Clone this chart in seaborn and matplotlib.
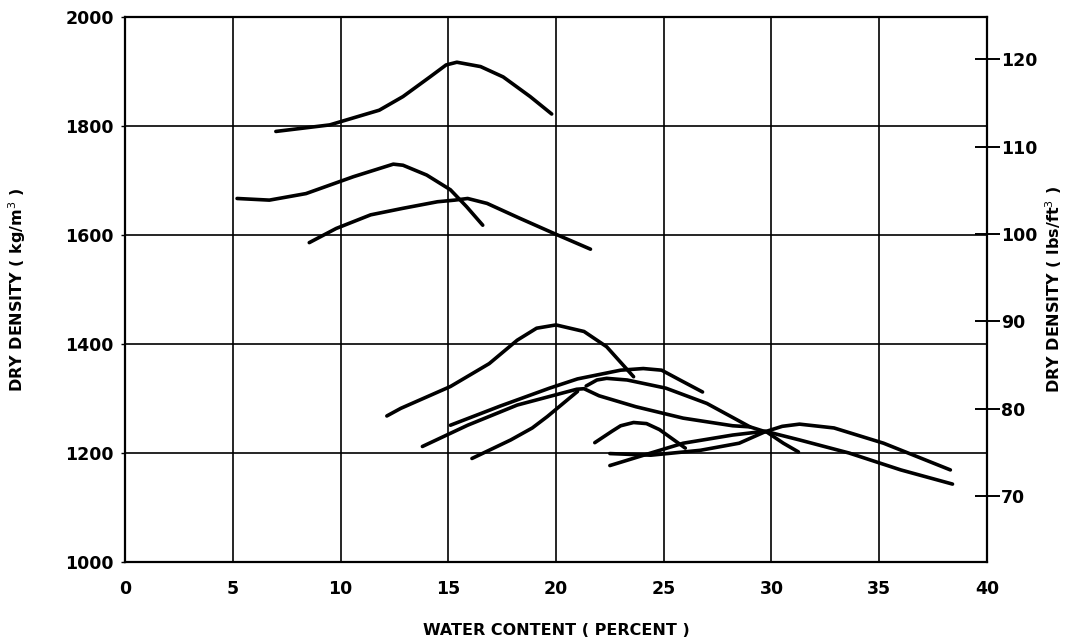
import matplotlib
matplotlib.use("Agg")
import matplotlib.pyplot as plt
import seaborn as sns
import pandas as pd

# ---- data (water content %, dry density kg/m3) ----
water_a = [7.0, 9.5, 11.8, 12.9, 14.15, 14.9, 15.4, 16.5, 17.55, 18.8, 19.8]
density_a = [1790, 1802, 1829, 1854, 1890, 1912, 1917, 1909, 1890, 1854, 1822]

water_b = [5.2, 6.7, 8.4, 10.6, 12.45, 12.9, 14.0, 15.1, 15.85, 16.6]
density_b = [1667, 1664, 1676, 1707, 1730, 1728, 1710, 1683, 1652, 1618]

water_c = [8.55, 9.8, 11.4, 12.9, 14.5, 15.3, 15.9, 16.8, 18.3, 19.9, 21.6]
density_c = [1586, 1612, 1637, 1649, 1661, 1664, 1667, 1658, 1631, 1603, 1574]

water_d = [12.15, 12.8, 15.1, 16.9, 18.2, 19.1, 20.0, 21.3, 22.35, 23.6]
density_d = [1268, 1282, 1322, 1364, 1407, 1429, 1435, 1423, 1395, 1340]

water_e = [15.1, 17.4, 19.7, 21.0, 23.0, 24.05, 24.9, 25.75, 26.8]
density_e = [1251, 1286, 1319, 1336, 1352, 1355, 1352, 1334, 1312]

water_f = [13.8, 15.9, 18.2, 20.96, 21.3, 22.0, 23.7, 25.9, 28.2, 29.0]
density_f = [1212, 1251, 1288, 1317, 1318, 1305, 1285, 1264, 1250, 1248]

water_g = [21.4, 21.9, 22.35, 23.3, 25.1, 27.0, 29.0, 29.8, 30.55, 31.25]
density_g = [1323, 1334, 1337, 1334, 1319, 1291, 1248, 1238, 1218, 1202]

water_h = [16.1, 17.0, 17.9, 18.9, 19.6, 20.3, 21.0]
density_h = [1190, 1207, 1224, 1246, 1267, 1290, 1313]

water_i = [21.8, 22.6, 23.0, 23.6, 24.2, 24.8, 25.4, 26.0]
density_i = [1219, 1240, 1250, 1256, 1254, 1243, 1226, 1209]

water_j = [22.5, 24.4, 26.7, 28.5, 29.7, 30.5, 31.3, 32.9, 35.2, 38.3]
density_j = [1199, 1196, 1205, 1218, 1239, 1249, 1253, 1246, 1218, 1169]

water_k = [22.5, 24.4, 25.9, 28.2, 29.7, 31.3, 33.6, 36.0, 38.4]
density_k = [1177, 1200, 1218, 1233, 1240, 1224, 1200, 1169, 1143]

x_ticks = [0, 5, 10, 15, 20, 25, 30, 35, 40]
y_ticks = [1000, 1200, 1400, 1600, 1800, 2000]
lbs_ticks = [70, 80, 90, 100, 110, 120]
KG_PER_LB = 16.0185

curves = {
    "A": (water_a, density_a), "B": (water_b, density_b), "C": (water_c, density_c),
    "D": (water_d, density_d), "E": (water_e, density_e), "F": (water_f, density_f),
    "G": (water_g, density_g), "H": (water_h, density_h), "I": (water_i, density_i),
    "J": (water_j, density_j), "K": (water_k, density_k),
}

frames = []
for name, (wx, dy) in curves.items():
    frames.append(pd.DataFrame({"water": wx, "density": dy, "curve": name}))
df = pd.concat(frames, ignore_index=True)

sns.set_style("white")
plt.rcParams['font.family'] = ['DejaVu Sans']
plt.rcParams['text.color'] = 'black'
plt.rcParams['axes.labelcolor'] = 'black'
plt.rcParams['xtick.color'] = 'black'
plt.rcParams['ytick.color'] = 'black'

fig = plt.figure(figsize=(10.87, 6.41), dpi=100)
ax = fig.add_axes([0.115, 0.1232, 0.793, 0.8503])

sns.lineplot(data=df, x="water", y="density", units="curve", estimator=None,
             sort=False, color="black", lw=2.6, ax=ax, legend=False,
             solid_joinstyle="round", solid_capstyle="round")

ax.set_xlim(0, 40)
ax.set_ylim(1000, 2000)
ax.set_xticks(x_ticks)
ax.set_yticks(y_ticks)
ax.set_axisbelow(True)
ax.grid(True, color="black", lw=1.2)
for s in ax.spines.values():
    s.set_color("black")
    s.set_linewidth(1.6)

tick_font = dict(fontsize=12.5, fontweight="bold")
ax.set_xticklabels([str(v) for v in x_ticks], **tick_font)
ax.set_yticklabels([str(v) for v in y_ticks], **tick_font)
ax.tick_params(axis="x", length=0, pad=13)
ax.tick_params(axis="y", length=3, width=1, pad=5, left=True)

ax.set_xlabel("WATER CONTENT ( PERCENT )", fontsize=11.5, fontweight="bold")
ax.set_ylabel("DRY DENSITY ( kg/m$^3$ )", fontsize=11.5, fontweight="bold")
ax.xaxis.set_label_coords(0.5, -0.112)
ax.yaxis.set_label_coords(-0.112, 0.5)

ax2 = ax.twinx()
ax2.set_ylim(1000 / KG_PER_LB, 2000 / KG_PER_LB)
ax2.set_yticks(lbs_ticks)
ax2.set_yticklabels([str(v) for v in lbs_ticks], **tick_font)
ax2.tick_params(axis="y", direction="inout", length=18, width=1.4, pad=1, right=True)
ax2.set_ylabel("DRY DENSITY ( lbs/ft$^3$ )", fontsize=11.5, fontweight="bold")
ax2.yaxis.set_label_coords(1.065, 0.5)
for s in ax2.spines.values():
    s.set_visible(False)

fig.savefig("out.png", dpi=100)
